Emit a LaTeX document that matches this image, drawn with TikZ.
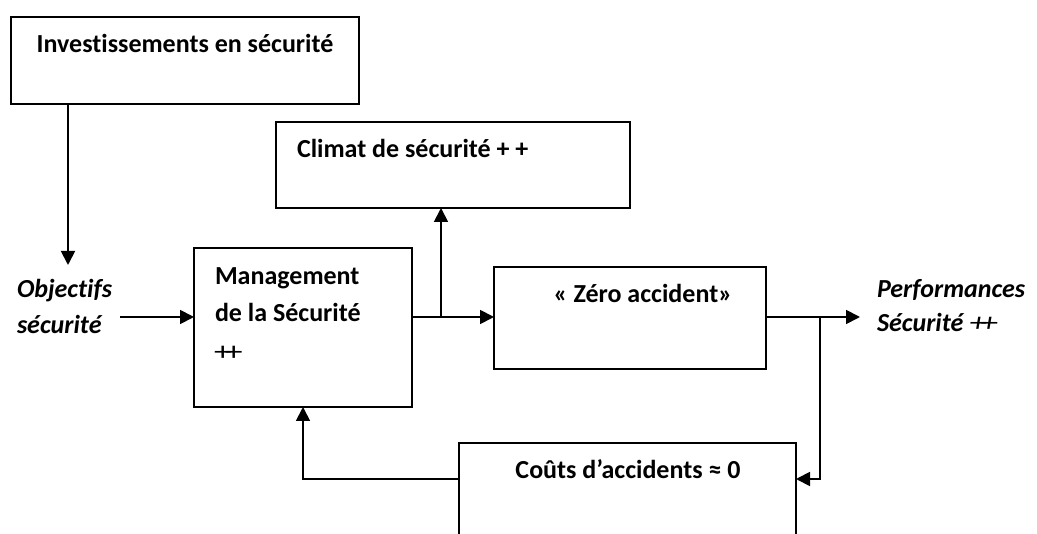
\documentclass[tikz,border=0pt]{standalone}
\usepackage{fontspec}
\setmainfont{Carlito}[Ligatures=NoCommon]
\usetikzlibrary{arrows.meta}
% two joined plus signs
\newcommand{\dblplus}{\mbox{\scalebox{1.35}[1]{+\kern-0.18em+}}}
\begin{document}
\begin{tikzpicture}[x=1pt, y=-1pt,
  box/.style={draw, line width=1.8pt, inner sep=0pt, outer sep=0pt},
  con/.style={line width=1.8pt},
  arr/.style={con, -{Triangle[length=14pt,width=14pt]}},
  lbl/.style={inner sep=0pt, outer sep=0pt, font=\fontsize{26}{31}\selectfont\bfseries},
  ilbl/.style={lbl, font=\fontsize{26}{31}\selectfont\bfseries\itshape}]
\clip (0,0) rectangle (1037,534);
\fill[white] (0,0) rectangle (1037,534);

% boxes
\node[box, minimum width=348pt, minimum height=87pt]  (inv)    at (185,60.5)  {};
\node[box, minimum width=218pt, minimum height=159pt] (mgmt)   at (303,327.5) {};
\node[box, minimum width=354pt, minimum height=86pt]  (climat) at (453,165)   {};
\node[box, minimum width=272pt, minimum height=102pt] (zero)   at (630,318)   {};
\node[box, minimum width=337pt, minimum height=127pt] (couts)  at (627.5,506.5) {};

% texts
\node[lbl, anchor=base] (tinv) at (185,53) {Investissements en sécurité};
\node[lbl, anchor=base west] (tclim) at (297,158) {Climat de sécurité + +};
\node[lbl, anchor=base west] (tm1) at (215,285) {Management};
\node[lbl, anchor=base west] (tm2) at (215,322) {de la Sécurité};
\node[lbl, anchor=base west, font=\fontsize{26}{31}\selectfont] (tm3) at (214,361) {\dblplus};
\node[lbl, anchor=base] (tzero) at (643,303) {« Zéro accident»};
\node[lbl, anchor=base] (tcouts) at (628,479) {Coûts d’accidents ≈ 0};
\node[ilbl, anchor=base west] (obj1) at (17,298) {Objectifs};
\node[ilbl, anchor=base west] (obj2) at (17,334) {sécurité};
\node[ilbl, anchor=base west] (perf1) at (877,298) {Performances};
\node[ilbl, anchor=base west] (perf2) at (877,332) {Sécurité {\mdseries\dblplus}};

% junction points
\coordinate (objtop) at (68,265);
\coordinate (objout) at (120,317);
\coordinate (j1) at (441,317);
\coordinate (j2) at (820,317);
\coordinate (perfin) at (860,317);
\coordinate (fb) at (303,479);

% connectors
\draw[arr] (inv.south -| objtop) -- (objtop);
\draw[arr] (objout) -- (objout -| mgmt.west);
\draw[arr] (j1 -| mgmt.east) -- (j1 -| zero.west);
\draw[arr] (j1) -- (j1 |- climat.south);
\draw[arr] (j2 -| zero.east) -- (perfin);
\draw[arr] (j2) |- (fb -| couts.east);
\draw[arr] (fb -| couts.west) -| (mgmt.south -| fb);
\end{tikzpicture}
\end{document}
